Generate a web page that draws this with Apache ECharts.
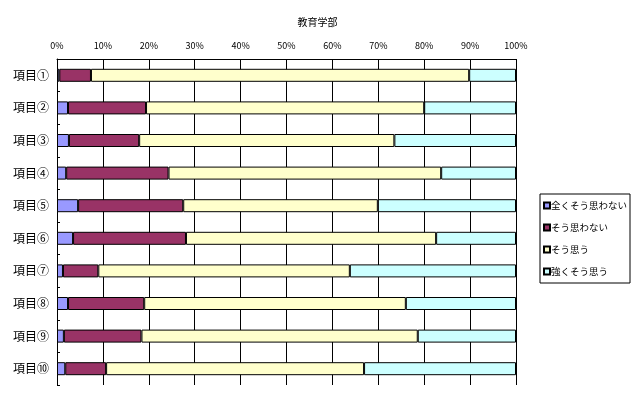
<!DOCTYPE html>
<html><head><meta charset="utf-8">
<script src="https://cdn.jsdelivr.net/npm/echarts@6/dist/echarts.min.js"></script>
<style>html,body{margin:0;padding:0;background:#fff}#c{width:635px;height:395px}</style>
</head><body><div id="c"></div>
<script>
const title = '教育学部';
const categories = ['項目①','項目②','項目③','項目④','項目⑤','項目⑥','項目⑦','項目⑧','項目⑨','項目⑩'];
const seriesNames = ['全くそう思わない','そう思わない','そう思う','強くそう思う'];
const notAtAll = [0.5, 2.4, 2.6, 2.0, 4.6, 3.5, 1.3, 2.4, 1.5, 1.8];
const disagree = [6.9, 17.0, 15.3, 22.3, 22.9, 24.6, 7.7, 16.6, 16.9, 8.9];
const agree    = [82.4, 60.6, 55.6, 59.4, 42.4, 54.5, 54.8, 57.0, 60.2, 56.2];
const strongly = [10.2, 20.0, 26.5, 16.3, 30.1, 17.4, 36.2, 24.0, 21.4, 33.1];
const colors = ['#9999FF','#993366','#FFFFCC','#CCFFFF'];
const values = [notAtAll, disagree, agree, strongly];

const font = '"Noto Sans CJK JP", sans-serif';
const chart = echarts.init(document.getElementById('c'), null, {renderer:'canvas'});
chart.setOption({
  animation:false,
  textStyle:{fontFamily:font, color:'#000'},
  title:{text:title, left:'center', top:12, textStyle:{fontSize:10, fontWeight:'normal', color:'#000', fontFamily:font}},
  grid:{left:57, right:119, top:59, bottom:10, containLabel:false},
  legend:{
    orient:'vertical', left:540, top:194,
    data:seriesNames, icon:'rect',
    itemWidth:6, itemHeight:6, itemGap:11,
    padding:[6,3,6,3],
    borderColor:'#000', borderWidth:1,
    textStyle:{fontSize:9.5, color:'#000', fontFamily:font, lineHeight:11, padding:[0,0,0,-4]}
  },
  xAxis:{
    type:'value', position:'top', min:0, max:100, interval:10,
    axisLine:{show:true, lineStyle:{color:'#000', width:1}},
    axisTick:{show:false},
    splitLine:{show:true, lineStyle:{color:'#000', width:1}},
    axisLabel:{formatter:'{value}%', fontSize:9, color:'#000', margin:9, fontFamily:font}
  },
  yAxis:{
    type:'category', data:categories, inverse:true,
    axisLine:{show:true, lineStyle:{color:'#000', width:1}},
    axisTick:{show:true, inside:true, length:3, lineStyle:{color:'#000'}},
    axisLabel:{fontSize:12, color:'#000', margin:8, fontFamily:font},
    splitLine:{show:false}
  },
  series: seriesNames.map((n,i)=>({
    name:n, type:'bar', stack:'total', data:values[i], barWidth:13,
    itemStyle:{color:colors[i], borderColor:'#000', borderWidth:1}
  }))
});
</script></body></html>
